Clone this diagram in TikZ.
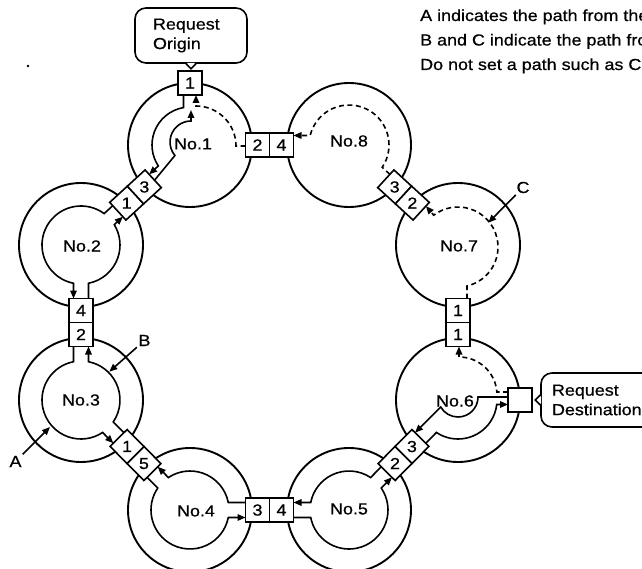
\documentclass[tikz,border=0pt]{standalone}
\usepackage{fontspec}
\setmainfont{Liberation Sans}[FakeStretch=1.12,FakeBold=0.7]
\usetikzlibrary{calc,arrows.meta}
% point at distance #4 from centre #2 along angle #3, shifted sideways by #5
\newcommand\offpt[5]{\coordinate (#1) at ($(#2)+(#3:#4)+(#3+90:#5)$);}
\begin{document}
\begin{tikzpicture}[x=1pt,y=-1pt,
  font=\fontsize{16}{19.5}\selectfont,
  ring/.style={line width=1.9pt},
  band/.style={line width=1.6pt},
  trail/.style={band, dash pattern=on 5pt off 3.5pt},
  tip/.style={-{Triangle[length=8pt,width=6.5pt]}},
  cell/.style={draw, fill=white, line width=1.6pt, minimum size=24pt, inner sep=0pt},
  num/.style={inner sep=0pt},
  callout/.style={draw, line width=1.6pt, rounded corners=11pt, align=left, inner ysep=0pt}]
\useasboundingbox (0,0) rectangle (642,569);

% ring of stations
\coordinate (n1) at (190,145);
\coordinate (n8) at (349,145);
\coordinate (n7) at (458,245);
\coordinate (n6) at (458,400);
\coordinate (n5) at (349,510);
\coordinate (n4) at (190,510);
\coordinate (n3) at (81,400);
\coordinate (n2) at (81,245);
\foreach \n in {n1,n2,n3,n4,n5,n6,n7,n8}
  \draw[ring] (\n) circle[radius=62];

% ---- No.1
\offpt{a1s}{n1}{-90}{50}{-6.5}
\offpt{a1e}{n1}{137.47}{49.95}{6}
\draw[band,tip] (a1s) -- ($(n1)+(-99.85:38)$) arc[start angle=-99.85,end angle=-213.45,radius=38] -- (a1e);
\offpt{b1s}{n1}{137.47}{49.95}{-2}
\coordinate (n1i) at (191,142);
\coordinate (b1e) at (191,110);
\draw[band,tip] (b1s) -- ($(n1i)+(140:21)$) arc[start angle=140,end angle=270,radius=21] -- (b1e);
\offpt{d1s}{n1}{0}{55.5}{1}
\coordinate (n1d) at (196,146);
\offpt{d1e}{n1}{-90}{50}{6}
\draw[trail,tip] (d1s) -- ($(n1d)+(40,0)$) arc[start angle=0,end angle=-90,radius=40] -- (d1e);

% ---- No.2
\offpt{a2s}{n2}{-42.53}{49.95}{-7.5}
\offpt{a2e}{n2}{90}{53.5}{7.5}
\draw[band,tip] (a2s) -- ($(n2)+(-53.62:39)$) arc[start angle=-53.62,end angle=-258.91,radius=39] -- (a2e);
\offpt{b2s}{n2}{90}{53.5}{-7.5}
\offpt{b2e}{n2}{-42.53}{49.95}{7.5}
\draw[band,tip] (b2s) -- ($(n2)+(78.91:39)$) arc[start angle=78.91,end angle=-31.44,radius=39] -- (b2e);

% ---- No.3
\offpt{a3s}{n3}{-90}{53.5}{-7.5}
\offpt{a3e}{n3}{45.26}{53.45}{7.5}
\draw[band,tip] (a3s) -- ($(n3)+(-101.09:39)$) arc[start angle=-101.09,end angle=-303.65,radius=39] -- (a3e);
\offpt{b3s}{n3}{45.26}{53.45}{-7.5}
\offpt{b3e}{n3}{-90}{53.5}{7.5}
\draw[band,tip] (b3s) -- ($(n3)+(34.17:39)$) arc[start angle=34.17,end angle=-78.91,radius=39] -- (b3e);

% ---- No.4
\offpt{a4s}{n4}{-134.74}{53.45}{-7.5}
\offpt{a4e}{n4}{0}{55.5}{7.5}
\draw[band,tip] (a4s) -- ($(n4)+(-145.83:39)$) arc[start angle=-145.83,end angle=-348.91,radius=39] -- (a4e);
\offpt{b4s}{n4}{0}{55.5}{-7.5}
\offpt{b4e}{n4}{-134.74}{53.45}{7.5}
\draw[band,tip] (b4s) -- ($(n4)+(-11.09:39)$) arc[start angle=-11.09,end angle=-123.65,radius=39] -- (b4e);

% ---- No.5
\offpt{a5s}{n5}{180}{55.5}{-7.5}
\offpt{a5e}{n5}{-45.26}{53.45}{7.5}
\draw[band,tip] (a5s) -- ($(n5)+(168.91:39)$) arc[start angle=168.91,end angle=-34.17,radius=39] -- (a5e);
\offpt{b5s}{n5}{-45.26}{53.45}{-7.5}
\offpt{b5e}{n5}{180}{55.5}{7.5}
\draw[band,tip] (b5s) -- ($(n5)+(-56.35:39)$) arc[start angle=-56.35,end angle=-168.91,radius=39] -- (b5e);

% ---- No.6
\offpt{a6s}{n6}{134.74}{53.45}{-7.5}
\offpt{a6e}{n6}{0}{50}{4.5}
\draw[band,tip] (a6s) -- ($(n6)+(123.65:39)$) arc[start angle=123.65,end angle=6.63,radius=39] -- (a6e);
\offpt{b6s}{n6}{0}{50}{-3}
\coordinate (n6i) at (458,397);
\offpt{b6e}{n6}{134.74}{53.45}{7.5}
\draw[band,tip] (b6s) -- ($(n6i)+(20,0)$) arc[start angle=0,end angle=150,radius=20] -- (b6e);
\offpt{d6s}{n6}{0}{50}{-8}
\coordinate (n6d) at (459,395);
\offpt{d6e}{n6}{-90}{53.5}{1}
\draw[trail,tip] (d6s) -- ($(n6d)+(-4.5:38)$) arc[start angle=-4.5,end angle=-90,radius=38] -- (d6e);

% ---- No.7
\offpt{d7s}{n7}{90}{53.5}{-9}
\coordinate (n7d) at (458,247);
\offpt{d7e}{n7}{-137.47}{49.95}{7}
\draw[trail,tip] (d7s) -- ($(n7d)+(77:40)$) arc[start angle=77,end angle=-127.4,radius=40] -- (d7e);

% ---- No.8
\offpt{d8s}{n8}{42.53}{49.95}{-6}
\offpt{d8e}{n8}{180}{55.5}{9.5}
\draw[trail,tip] (d8s) -- ($(n8)+(33.9:40)$) arc[start angle=33.9,end angle=-166.3,radius=40] -- (d8e);

% numbered cells between neighbouring stations
\foreach \p/\q/\rot/\dp/\dq in {n1/n8/0/2/4, n8/n7/-42.53/3/2, n7/n6/0/1/1,
    n6/n5/-134.74/3/2, n5/n4/0/4/3, n4/n3/134.74/5/1, n3/n2/0/2/4, n2/n1/42.53/1/3}{
  \coordinate (mid) at ($(\p)!0.5!(\q)$);
  \node[cell, rotate=\rot] (k\p\q) at ($(mid)!12pt!(\p)$) {};
  \node[cell, rotate=\rot] (k\q\p) at ($(mid)!12pt!(\q)$) {};
  \node[num] (t\p\q) at (k\p\q.center) {\dp};
  \node[num] (t\q\p) at (k\q\p.center) {\dq};
}
\node[cell] (korigin) at ($(n1)+(0,-62)$) {};
\node[num] (torigin) at (korigin.center) {1};
\node[cell] (kdest) at ($(n6)+(62,0)$) {};

% station names
\node[num] (l1) at (193,144) {No.1};
\node[num] (l2) at (82,246) {No.2};
\node[num] (l3) at (81,400) {No.3};
\node[num] (l4) at (196,511) {No.4};
\node[num] (l5) at (349,509) {No.5};
\node[num] (l6) at (455,401) {No.6};
\node[num] (l7) at (459,246) {No.7};
\node[num] (l8) at (349,141) {No.8};

% request callouts
\node[callout, text width=76pt, inner xsep=18pt, minimum height=55pt] (origin) at (191,35.5) {Request\\Origin};
\fill[white] ($(origin.south)+(-4.2,-1)$) -- ($(origin.south)+(4.2,-1)$) -- ($(origin.south)+(0,4)$) -- cycle;
\draw[line width=1.6pt] ($(origin.south)+(-5,0)$) -- ($(origin.south)+(0,5)$) -- ($(origin.south)+(5,0)$);
\node[callout, text width=97pt, inner xsep=11pt, minimum height=54pt] (dest) at (600.5,400) {Request\\Destination};
\fill[white] ($(dest.west)+(1,-4.2)$) -- ($(dest.west)+(1,4.2)$) -- ($(dest.west)+(-4,0)$) -- cycle;
\draw[line width=1.6pt] ($(dest.west)+(0,-5)$) -- ($(dest.west)+(-5,0)$) -- ($(dest.west)+(0,5)$);

% path markers
\node[num, inner sep=1.5pt] (labA) at (15.5,461.5) {A};
\coordinate (ptA) at (50,427);
\draw[band,tip] (labA) -- (ptA);
\node[num, inner sep=1.5pt] (labB) at (144.5,340.5) {B};
\coordinate (ptB) at (109.3,371.7);
\draw[band,tip] (labB) -- (ptB);
\node[num, inner sep=1.5pt] (labC) at (523,187.5) {C};
\coordinate (ptC) at (488.3,222.7);
\draw[band,tip] (labC) -- (ptC);

% notes
\node[num, anchor=base west] (noteA) at (420,21) {A indicates the path from the};
\node[num, anchor=base west] (noteB) at (420,45.5) {B and C indicate the path from};
\node[num, anchor=base west] (noteC) at (420,70) {Do not set a path such as C};

\fill (28,66) circle[radius=1.3];
\end{tikzpicture}
\end{document}
